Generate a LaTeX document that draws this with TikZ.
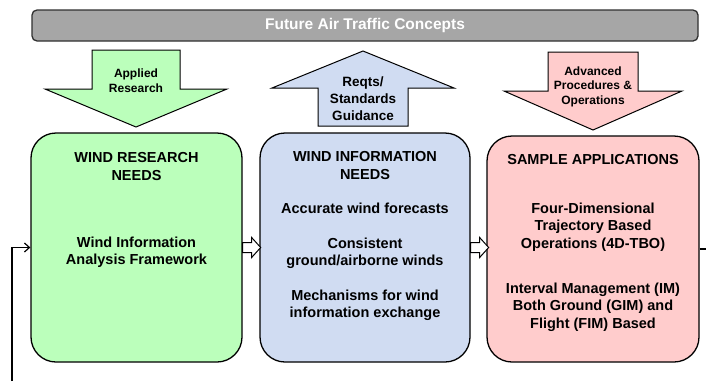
\documentclass[tikz,border=0pt]{standalone}
\usepackage{fontspec}
\setmainfont{Liberation Sans}
\usetikzlibrary{calc,arrows.meta}
\definecolor{barfill}{HTML}{A6A6A6}
\definecolor{barline}{HTML}{303030}
\definecolor{greenfill}{HTML}{BBFFBB}
\definecolor{bluefill}{HTML}{D0DCF2}
\definecolor{pinkfill}{HTML}{FFCCCC}
\begin{document}
\begin{tikzpicture}[x=1pt,y=-1pt,
  panel/.style={draw=black, line width=1.3pt, rounded corners=25pt, inner sep=0pt},
  bodytext/.style={font=\bfseries\fontsize{14.5}{17.5}\selectfont, align=center, anchor=north, inner sep=0pt},
  labeltext/.style={font=\bfseries\fontsize{12}{14.5}\selectfont, align=center, anchor=north, inner sep=0pt},
  bigarrow/.style={draw=black, line width=1pt, line join=miter},
  fbline/.style={draw=black, line width=1.2pt},
  hollow/.pic={\draw[fill=white, line width=1pt, line join=miter]
     (0,-5) -- (9,-5) -- (9,-10) -- (18,0) -- (9,10) -- (9,5) -- (0,5) -- cycle;}
]
\useasboundingbox (0,0) rectangle (706,381);

% concept banner
\node[draw=barline, fill=barfill, line width=1.3pt, rounded corners=5pt,
      minimum width=666pt, minimum height=31pt, inner sep=0pt,
      text=white, font=\bfseries\fontsize{15.5}{18}\selectfont]
      (banner) at (365,25.5) {Future Air Traffic Concepts};

% block arrows between banner and panels
\draw[bigarrow, fill=greenfill] (92,50) -- (180,50) -- (180,89) -- (227,89)
   -- (136,127) -- (45,89) -- (92,89) -- cycle;
\node[labeltext] (applied) at (136,68.8) {Applied\\Research};

\draw[bigarrow, fill=bluefill] (363,51) -- (454,88) -- (408,88) -- (408,126)
   -- (318,126) -- (318,88) -- (272,88) -- cycle;
\node[labeltext, font=\bfseries\fontsize{13.5}{17}\selectfont] (reqts) at (363,76.2) {Reqts/\\Standards\\Guidance};

\draw[bigarrow, fill=pinkfill] (548,52) -- (638,52) -- (638,91) -- (682,91)
   -- (593,130) -- (504,91) -- (548,91) -- cycle;
\node[labeltext] (advanced) at (593,66.3) {Advanced\\Procedures \&\\Operations};

% panels
\node[panel, fill=greenfill, minimum width=211pt, minimum height=229pt] (research) at (136.5,247.5) {};
\node[panel, fill=bluefill, minimum width=210pt, minimum height=229pt] (info) at (365,247.5) {};
\node[panel, fill=pinkfill, minimum width=212pt, minimum height=226pt] (apps) at (593,249) {};

% panel texts
\node[bodytext] (rtitle) at (136.5,152.5) {WIND RESEARCH\\NEEDS};
\node[bodytext] (rbody) at (136.5,236.5) {Wind Information\\Analysis Framework};

\node[bodytext] (ititle) at (365,151.5) {WIND INFORMATION\\NEEDS};
\node[bodytext] (ione) at (365,202.5) {Accurate wind forecasts};
\node[bodytext] (itwo) at (365,237.5) {Consistent\\ground/airborne winds};
\node[bodytext] (ithree) at (365,289.5) {Mechanisms for wind\\information exchange};

\node[bodytext] (atitle) at (593,154.5) {SAMPLE APPLICATIONS};
\node[bodytext] (aone) at (593,202.5) {Four-Dimensional\\Trajectory Based\\Operations (4D-TBO)};
\node[bodytext] (atwo) at (593,282.5) {Interval Management (IM)\\Both Ground (GIM) and\\Flight (FIM) Based};

% flow between panels
\pic at (research.east) {hollow};
\pic at (info.east) {hollow};

% feedback loop
\coordinate (fbout) at (706,249);
\coordinate (fbin) at (12,381);
\draw[fbline] (apps.east) -- (fbout);
\draw[fbline, -{Straight Barb[length=5pt,width=9pt]}] (fbin) |- (research.west);
\end{tikzpicture}
\end{document}
